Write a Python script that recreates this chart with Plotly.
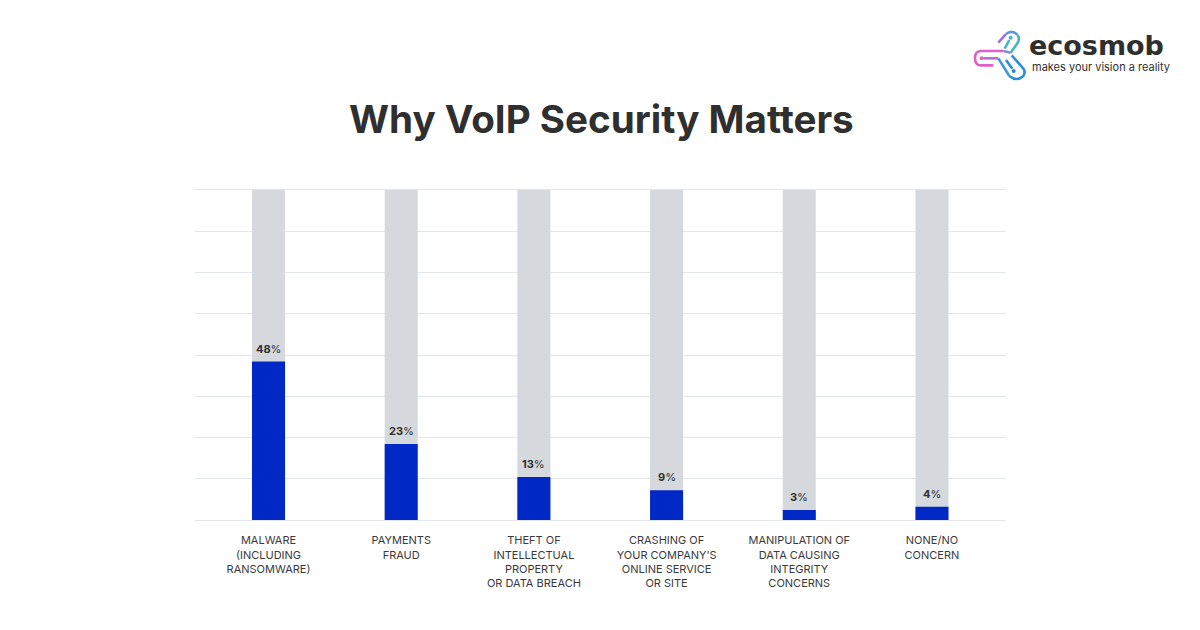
import plotly.graph_objects as go

categories = ["MALWARE<br>(INCLUDING<br>RANSOMWARE)", "PAYMENTS<br>FRAUD",
              "THEFT OF<br>INTELLECTUAL<br>PROPERTY<br>OR DATA BREACH",
              "CRASHING OF<br>YOUR COMPANY’S<br>ONLINE SERVICE<br>OR SITE",
              "MANIPULATION OF<br>DATA CAUSING<br>INTEGRITY<br>CONCERNS", "NONE/NO<br>CONCERN"]
positions = [0, 1, 2, 3, 4, 5]
values = [48, 23, 13, 9, 3, 4]
totals = [100, 100, 100, 100, 100, 100]
grid_ticks = [0, 12.5, 25, 37.5, 50, 62.5, 75, 87.5, 100]

W, H = 1200, 630
DARK = "#2f2f2f"
FONT = "Inter, 'Open Sans', sans-serif"
GRID = "#e3e6ea"


def px(x):
    return x / W


def py(y):
    return 1 - y / H


def icon_path(spec):
    """spec: list of (command, crop coords...) measured on a 3x crop of the logo box."""
    parts = []
    for cmd, *pts in spec:
        coords = [f"{px(970 + a / 3):.5f},{py(26 + b / 3):.5f}" for a, b in pts]
        parts.append(cmd + " " + " ".join(coords))
    return " ".join(parts)


logo_segments = [
    ([("M", (100, 75)), ("L", (32, 75)), ("Q", (15, 76), (15, 96)), ("Q", (15, 118), (32, 118)), ("L", (70, 118))], "#e05fc6"),
    ([("M", (40, 97)), ("L", (85, 97))], "#b56cd8"),
    ([("M", (85, 50)), ("L", (108, 24))], "#a66ad8"),
    ([("M", (108, 24)), ("Q", (125, 10), (142, 26))], "#5f96d8"),
    ([("M", (142, 26)), ("Q", (152, 40), (140, 55)), ("L", (122, 80))], "#45b5c4"),
    ([("M", (122, 80)), ("L", (100, 75))], "#7f8fd8"),
    ([("M", (118, 42)), ("L", (104, 68))], "#45b5c4"),
    ([("M", (85, 97)), ("L", (118, 150))], "#3c9ad8"),
    ([("M", (118, 150)), ("Q", (140, 168), (160, 150)), ("Q", (170, 135), (155, 122)), ("L", (125, 88))], "#2f8fd4"),
    ([("M", (127, 128)), ("L", (108, 102))], "#2f8fd4"),
]
logo_dots = [((35, 97), "#d065cc"), ((122, 35), "#45b5c4"), ((131, 135), "#2b84cc")]

shapes = [dict(type="path", path=icon_path(p), xref="paper", yref="paper",
               line=dict(color=c, width=2.6), layer="above") for p, c in logo_segments]
for (a, b), c in logo_dots:
    cx, cy = 970 + a / 3, 26 + b / 3
    shapes.append(dict(type="circle", xref="paper", yref="paper", x0=px(cx - 2), x1=px(cx + 2),
                       y0=py(cy + 2), y1=py(cy - 2), fillcolor=c, line_width=0, layer="above"))

fig = go.Figure()
fig.add_bar(x=positions, y=totals, width=0.249, marker=dict(color="#d5d8dc", line_width=0),
            hoverinfo="skip", showlegend=False)
fig.add_bar(x=positions, y=values, width=0.249, marker=dict(color="#0028c4", line_width=0),
            showlegend=False)

value_labels = [dict(x=p, y=v, xref="x", yref="y", text=f"<b>{v}</b>%", showarrow=False,
                     xanchor="center", yanchor="middle", yshift=13,
                     font=dict(family=FONT, size=11, color=DARK))
                for p, v in zip(positions, values)]

fig.update_layout(
    width=W, height=H, margin=dict(l=0, r=0, t=0, b=0), autosize=False,
    paper_bgcolor="white", plot_bgcolor="white", barmode="overlay",
    font=dict(family=FONT, color=DARK),
    xaxis=dict(domain=[195 / W, 1006 / W], range=[-0.554, 5.558], tickmode="array",
               tickvals=positions, ticktext=categories, ticks="", showgrid=False, zeroline=False,
               showline=True, mirror=True, linecolor=GRID, linewidth=1, tickangle=0,
               tickfont=dict(family=FONT, size=11, color="#3a3a3a"), ticklabelstandoff=10),
    yaxis=dict(domain=[1 - 520 / H, 1 - 190 / H], range=[0, 100], tickmode="array",
               tickvals=grid_ticks, showticklabels=False, ticks="", gridcolor=GRID,
               gridwidth=1, zeroline=False, showline=False),
    annotations=value_labels + [
        dict(text="<b>Why VoIP Security Matters</b>", x=px(601), y=py(118.5), xref="paper", yref="paper",
             showarrow=False, xanchor="center", yanchor="middle",
             font=dict(family=FONT, size=38.6, color=DARK)),
        dict(text="<b>ecosmob</b>", x=px(1027), y=py(46), xref="paper", yref="paper", showarrow=False,
             xanchor="left", yanchor="middle", font=dict(family="DejaVu Sans", size=27, color=DARK)),
        dict(text="makes your vision a reality", x=px(1030), y=py(67.5), xref="paper", yref="paper",
             showarrow=False, xanchor="left", yanchor="middle", font=dict(family=FONT, size=11, color=DARK)),
    ],
    shapes=shapes,
)

fig.write_html("out.html", config=dict(displayModeBar=False),
               post_script="document.body.style.margin='0';")
